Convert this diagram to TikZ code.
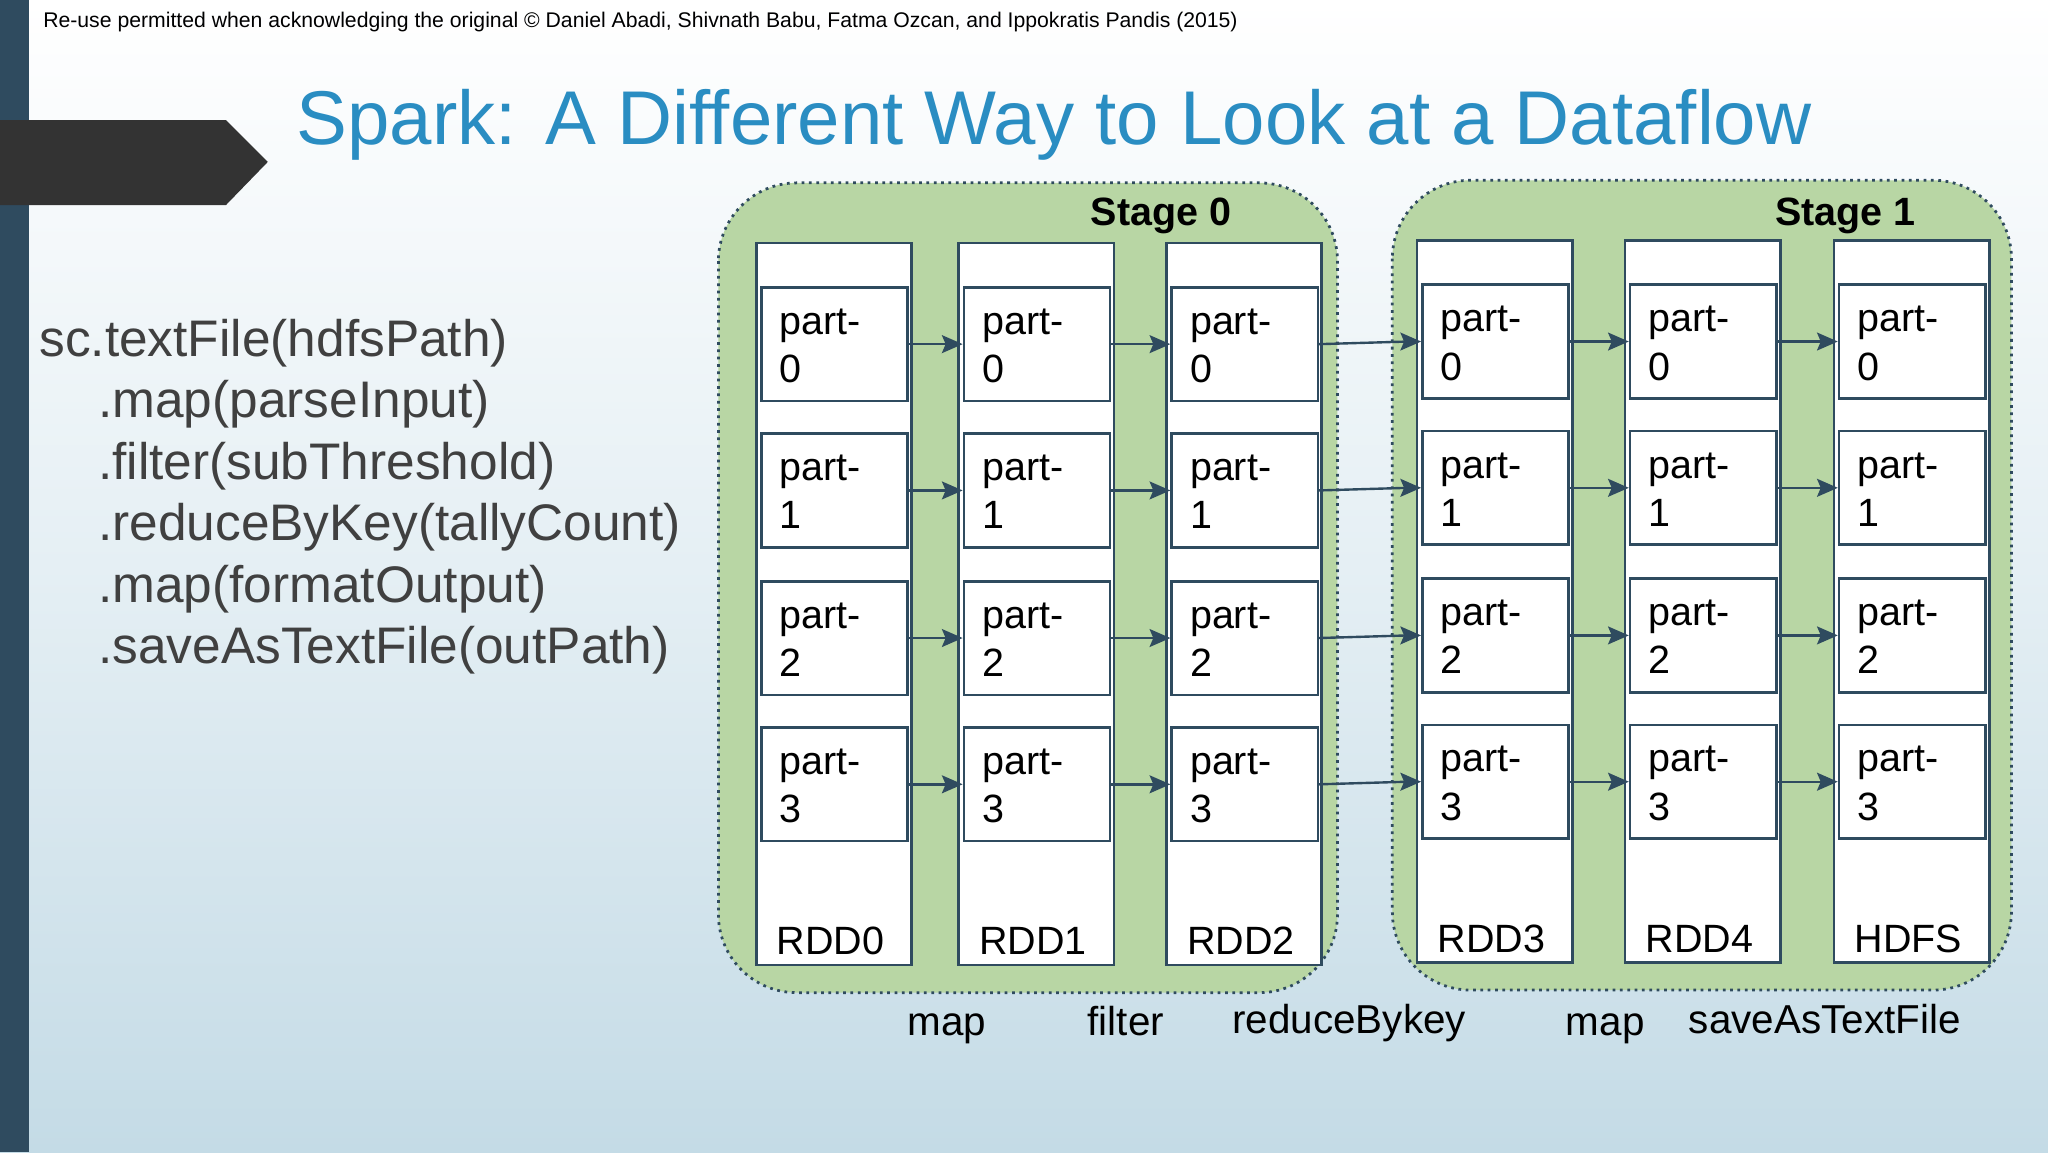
\documentclass[tikz,border=0pt]{standalone}
\usepackage{fontspec}
\setmainfont{Liberation Sans}
\definecolor{slate}{HTML}{2F4B5F}
\definecolor{stagegreen}{HTML}{B8D6A4}
\definecolor{titleblue}{HTML}{2A8DC2}
\definecolor{codegray}{HTML}{404040}
\definecolor{bgblue}{HTML}{C4DBE6}
\tikzset{
  partbox/.style={draw=slate,line width=2.8pt,fill=white,inner sep=0,minimum width=5.6cm,minimum height=4.35cm,anchor=north west},
  rddbox/.style={draw=slate,line width=2.8pt,fill=white,inner sep=0,minimum width=5.95cm,minimum height=27.65cm,anchor=north west},
  parttxt/.style={anchor=base west,inner sep=0,font=\fontsize{43}{50}\selectfont},
  rddlab/.style={anchor=base,inner sep=0,font=\fontsize{43}{50}\selectfont},
  oplab/.style={anchor=base,inner sep=0,font=\fontsize{44}{50}\selectfont},
  codeline/.style={anchor=base west,inner sep=0,text=codegray,font=\fontsize{56}{60}\selectfont},
  stagebox/.style={draw=slate,line width=3pt,dash pattern=on 3pt off 5pt,fill=stagegreen,rounded corners=3cm},
  flow/.style={draw=slate,line width=2.6pt},
  tip/.style={fill=slate},
}
\begin{document}
\begin{tikzpicture}[x=0.05cm,y=-0.05cm]
\useasboundingbox (0,0) rectangle (1568,882);
\shade[top color=white,bottom color=bgblue,middle color=white!55!bgblue] (0,0) rectangle (1568,882);
\fill[slate] (0,0) rectangle (22,882);
\fill[black!80] (0,92)--(173,92)--(205,124)--(173,157)--(0,157)--cycle;
\node[anchor=base west,inner sep=0,font=\fontsize{23.1}{26}\selectfont] (credit) at (33,21) {Re-use permitted when acknowledging the original © Daniel Abadi, Shivnath Babu, Fatma Ozcan, and Ippokratis Pandis (2015)};
\node[anchor=base west,inner sep=0,text=titleblue,font=\fontsize{83}{90}\selectfont] (title) at (227,111) {Spark: A Different Way to Look at a Dataflow};
\node[codeline] (c1) at (30,273) {sc.textFile(hdfsPath)};
\node[codeline] (c2) at (75,320) {.map(parseInput)};
\node[codeline] (c3) at (75,367) {.filter(subThreshold)};
\node[codeline] (c4) at (75,414) {.reduceByKey(tallyCount)};
\node[codeline] (c5) at (75,461) {.map(formatOutput)};
\node[codeline] (c6) at (75,508) {.saveAsTextFile(outPath)};
\path[stagebox] (550,140) rectangle (1024,760);
\path[stagebox] (1066,138) rectangle (1540,758);
\node[anchor=base,inner sep=0,font=\bfseries\fontsize{43}{50}\selectfont] (s0) at (889,173) {Stage 0};
\node[anchor=base,inner sep=0,font=\bfseries\fontsize{43}{50}\selectfont] (s1) at (1413,173) {Stage 1};
\foreach \c/\x/\t/\lab in {0/578/185/RDD0,1/733/185/RDD1,2/892/185/RDD2,3/1084/183/RDD3,4/1243/183/RDD4,5/1403/183/HDFS}{
  \node[rddbox] (rdd\c) at (\x,\t) {};
  \node[rddlab] (lab\c) at (\x+58,\t+546) {\lab};
  \foreach \r/\o in {0/34,1/146,2/259,3/371}{
    \node[partbox] (p\c\r) at (\x+4,\t+\o) {};
    \node[parttxt] (ta\c\r) at (\x+19,\t+\o+37) {part-};
    \node[parttxt] (tb\c\r) at (\x+19,\t+\o+74) {\r};
  }
}
\foreach \a/\b in {0/1,1/2,2/3,3/4,4/5}{
  \foreach \r in {0,1,2,3}{
    \draw[flow] (p\a\r.east) -- ([xshift=-0.5cm]p\b\r.west);
    \fill[tip] (p\b\r.west) -- ++(-16,-7) -- ++(3,7) -- ++(-3,7) -- cycle;
  }
}
\node[oplab] (m1) at (725,793) {map};
\node[oplab] (m2) at (862,793) {filter};
\node[oplab] (m3) at (1033,791) {reduceBykey};
\node[oplab] (m4) at (1229,793) {map};
\node[oplab] (m5) at (1397,791) {saveAsTextFile};
\end{tikzpicture}
\end{document}
